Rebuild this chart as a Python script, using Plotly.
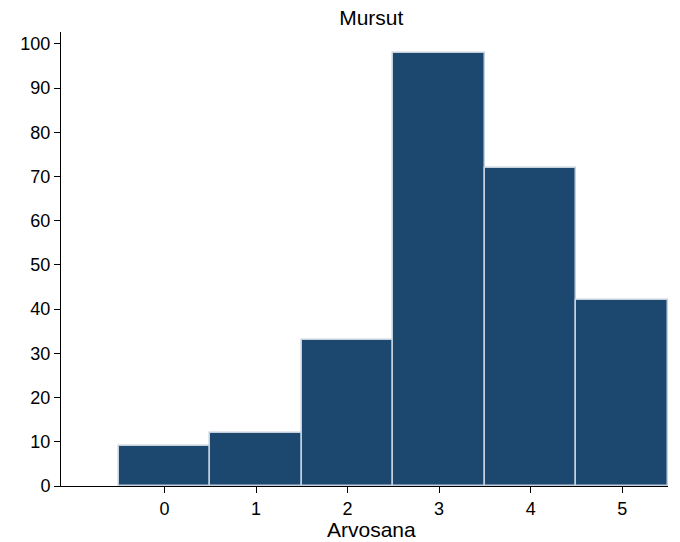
import plotly.graph_objects as go

grades = [0, 1, 2, 3, 4, 5]
counts = [9, 12, 33, 98, 72, 42]
y_ticks = [0, 10, 20, 30, 40, 50, 60, 70, 80, 90, 100]

fig = go.Figure(go.Bar(
    x=grades, y=counts, width=1.0,
    marker=dict(color="#1c4870", line=dict(color="#c4d0dc", width=1.5)),
))

font = "Liberation Sans, Arial, Helvetica, sans-serif"
fig.update_layout(
    width=680, height=542,
    margin=dict(l=61, r=12, t=32, b=56, autoexpand=False),
    paper_bgcolor="white", plot_bgcolor="white",
    font=dict(family=font, size=18, color="black"),
    title=dict(text="Mursut", x=0.546, xanchor="center", y=0.968, yanchor="middle",
               font=dict(size=21, color="black", family=font)),
    showlegend=False, bargap=0,
    annotations=[dict(text="Arvosana", xref="paper", yref="paper", x=0.512, y=-0.095,
                      xanchor="center", yanchor="middle", showarrow=False,
                      font=dict(size=21, color="black", family=font))],
)
fig.update_xaxes(
    range=[-1.13, 5.5], tickvals=grades, ticks="outside", ticklen=6, tickwidth=1,
    tickcolor="black", showline=True, linecolor="black", linewidth=1,
    showgrid=False, zeroline=False, tickfont=dict(size=18),
)
fig.update_yaxes(
    range=[0, 102.7], tickvals=y_ticks, ticks="outside", ticklen=6, tickwidth=1,
    tickcolor="black", showline=True, linecolor="black", linewidth=1,
    showgrid=False, zeroline=False, tickfont=dict(size=18),
)
fig.write_html("out.html", config={"displayModeBar": False},
               post_script="document.body.style.margin='0';")
